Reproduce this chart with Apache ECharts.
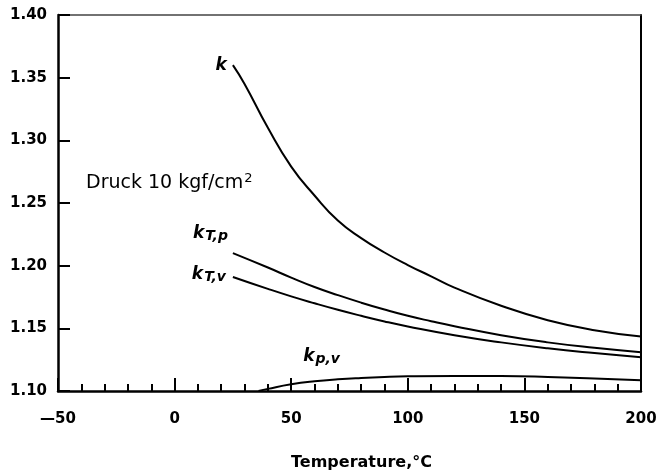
<!DOCTYPE html>
<html>
<head>
<meta charset="utf-8">
<script src="https://cdn.jsdelivr.net/npm/echarts@6/dist/echarts.min.js"></script>
<style>
  html, body { margin: 0; padding: 0; background: #fff; }
  #chart { width: 659px; height: 471px; }
</style>
</head>
<body>
<div id="chart"></div>
<script>
// Ratio of specific heats vs. temperature at 10 kgf/cm2
const kTemps    = [25, 30, 40, 50, 60, 70, 80, 90, 100, 110, 120, 140, 160, 180, 200];
const kValues   = [1.360, 1.345, 1.310, 1.279, 1.256, 1.236, 1.222, 1.2105, 1.2005, 1.1915, 1.1825, 1.168, 1.1565, 1.1485, 1.1435];

const kTpTemps  = [25, 40, 50, 60, 70, 80, 90, 100, 110, 120, 140, 160, 180, 200];
const kTpValues = [1.210, 1.1985, 1.1905, 1.183, 1.1765, 1.1705, 1.165, 1.160, 1.1557, 1.1517, 1.1445, 1.1388, 1.1345, 1.131];

const kTvTemps  = [25, 40, 50, 60, 70, 80, 90, 100, 120, 140, 160, 180, 200];
const kTvValues = [1.191, 1.1815, 1.1755, 1.170, 1.1648, 1.160, 1.1555, 1.1515, 1.1445, 1.1388, 1.1341, 1.1303, 1.127];

const kpvTemps  = [36, 40, 50, 60, 70, 80, 90, 100, 120, 140, 160, 180, 200];
const kpvValues = [1.100, 1.1017, 1.1053, 1.1077, 1.1093, 1.1104, 1.1112, 1.1117, 1.1120, 1.1119, 1.1112, 1.1100, 1.1086];

const xTicks = [-50, 0, 50, 100, 150, 200];
const yTicks = [1.10, 1.15, 1.20, 1.25, 1.30, 1.35, 1.40];

const FONT = 'DejaVu Sans';

const curveRich = {
  k: { fontFamily: FONT, fontSize: 17, fontStyle: 'italic', fontWeight: 'bold', color: '#000', lineHeight: 18, verticalAlign: 'top' },
  s: { fontFamily: FONT, fontSize: 14, fontStyle: 'italic', fontWeight: 'bold', color: '#000', lineHeight: 14, padding: [10, 0, 0, 1], verticalAlign: 'bottom' }
};

function curve(name, temps, values, labelText, labelIndex, labelPos) {
  const data = temps.map((t, i) => {
    const item = { value: [t, values[i]] };
    if (i === labelIndex) {
      item.label = Object.assign({
        show: true,
        formatter: labelText,
        rich: curveRich
      }, labelPos);
    }
    return item;
  });
  return {
    name: name,
    type: 'line',
    data: data,
    smooth: 0.5,
    showSymbol: true,
    symbol: 'circle',
    symbolSize: 0,
    label: { show: false },
    lineStyle: { color: '#000', width: 2 },
    z: 3
  };
}

const chart = echarts.init(document.getElementById('chart'));
chart.setOption({
  backgroundColor: '#fff',
  animation: false,
  title: {
    left: 86,
    top: 172,
    padding: 0,
    text: '{a|Druck 10 kgf/cm}{b|2}',
    textStyle: {
      fontWeight: 'normal',
      rich: {
        a: { fontFamily: FONT, fontSize: 19, fontWeight: 'normal', color: '#000', lineHeight: 21, verticalAlign: 'bottom' },
        b: { fontFamily: FONT, fontSize: 13, fontWeight: 'normal', color: '#000', lineHeight: 13, padding: [0, 0, 8, 1], verticalAlign: 'top' }
      }
    }
  },
  grid: { left: 58, right: 18, top: 15, bottom: 80, containLabel: false, outerBoundsMode: 'none' },
  xAxis: [{
    type: 'value',
    min: xTicks[0],
    max: xTicks[xTicks.length - 1],
    interval: 50,
    position: 'bottom',
    name: 'Temperature,°C',
    nameLocation: 'middle',
    nameGap: 64,
    nameTextStyle: { fontFamily: FONT, fontSize: 16, fontWeight: 'bold', color: '#000', padding: [0, 0, 0, 24] },
    axisLine: { show: true, onZero: false, lineStyle: { color: '#000', width: 2.5 } },
    axisTick: { show: true, inside: true, length: 13, lineStyle: { color: '#000', width: 2 } },
    minorTick: { show: true, splitNumber: 5, length: 7, lineStyle: { color: '#000', width: 2 } },
    splitLine: { show: false },
    axisLabel: {
      margin: 21,
      fontFamily: FONT, fontSize: 15, fontWeight: 'bold', color: '#000',
      formatter: v => (v < 0 ? '\u2014' + Math.abs(v) : String(v))
    }
  }, {
    type: 'value',
    min: xTicks[0],
    max: xTicks[xTicks.length - 1],
    position: 'top',
    axisLine: { show: true, onZero: false, lineStyle: { color: '#444', width: 1.5 } },
    axisTick: { show: false },
    axisLabel: { show: false },
    splitLine: { show: false }
  }],
  yAxis: [{
    type: 'value',
    min: yTicks[0],
    max: yTicks[yTicks.length - 1],
    interval: 0.05,
    position: 'left',
    axisLine: { show: true, onZero: false, lineStyle: { color: '#000', width: 2.5 } },
    axisTick: { show: true, inside: true, length: 12, lineStyle: { color: '#000', width: 2 } },
    splitLine: { show: false },
    axisLabel: {
      margin: 11,
      fontFamily: FONT, fontSize: 15, fontWeight: 'bold', color: '#000',
      formatter: v => v.toFixed(2)
    }
  }, {
    type: 'value',
    min: yTicks[0],
    max: yTicks[yTicks.length - 1],
    position: 'right',
    axisLine: { show: true, onZero: false, lineStyle: { color: '#000', width: 2 } },
    axisTick: { show: false },
    axisLabel: { show: false },
    splitLine: { show: false }
  }],
  series: [
    curve('k', kTemps, kValues, '{k|k}', 0, { position: 'left', distance: 6, offset: [0, 1] }),
    curve('kT,p', kTpTemps, kTpValues, '{k|k}{s|T,p}', 0, { position: 'left', distance: 5, offset: [0, -19] }),
    curve('kT,v', kTvTemps, kTvValues, '{k|k}{s|T,v}', 0, { position: 'left', distance: 7, offset: [0, -2] }),
    curve('kp,v', kpvTemps, kpvValues, '{k|k}{s|p,v}', 2, { position: 'right', distance: 12, offset: [0, -27] })
  ]
});
</script>
</body>
</html>
